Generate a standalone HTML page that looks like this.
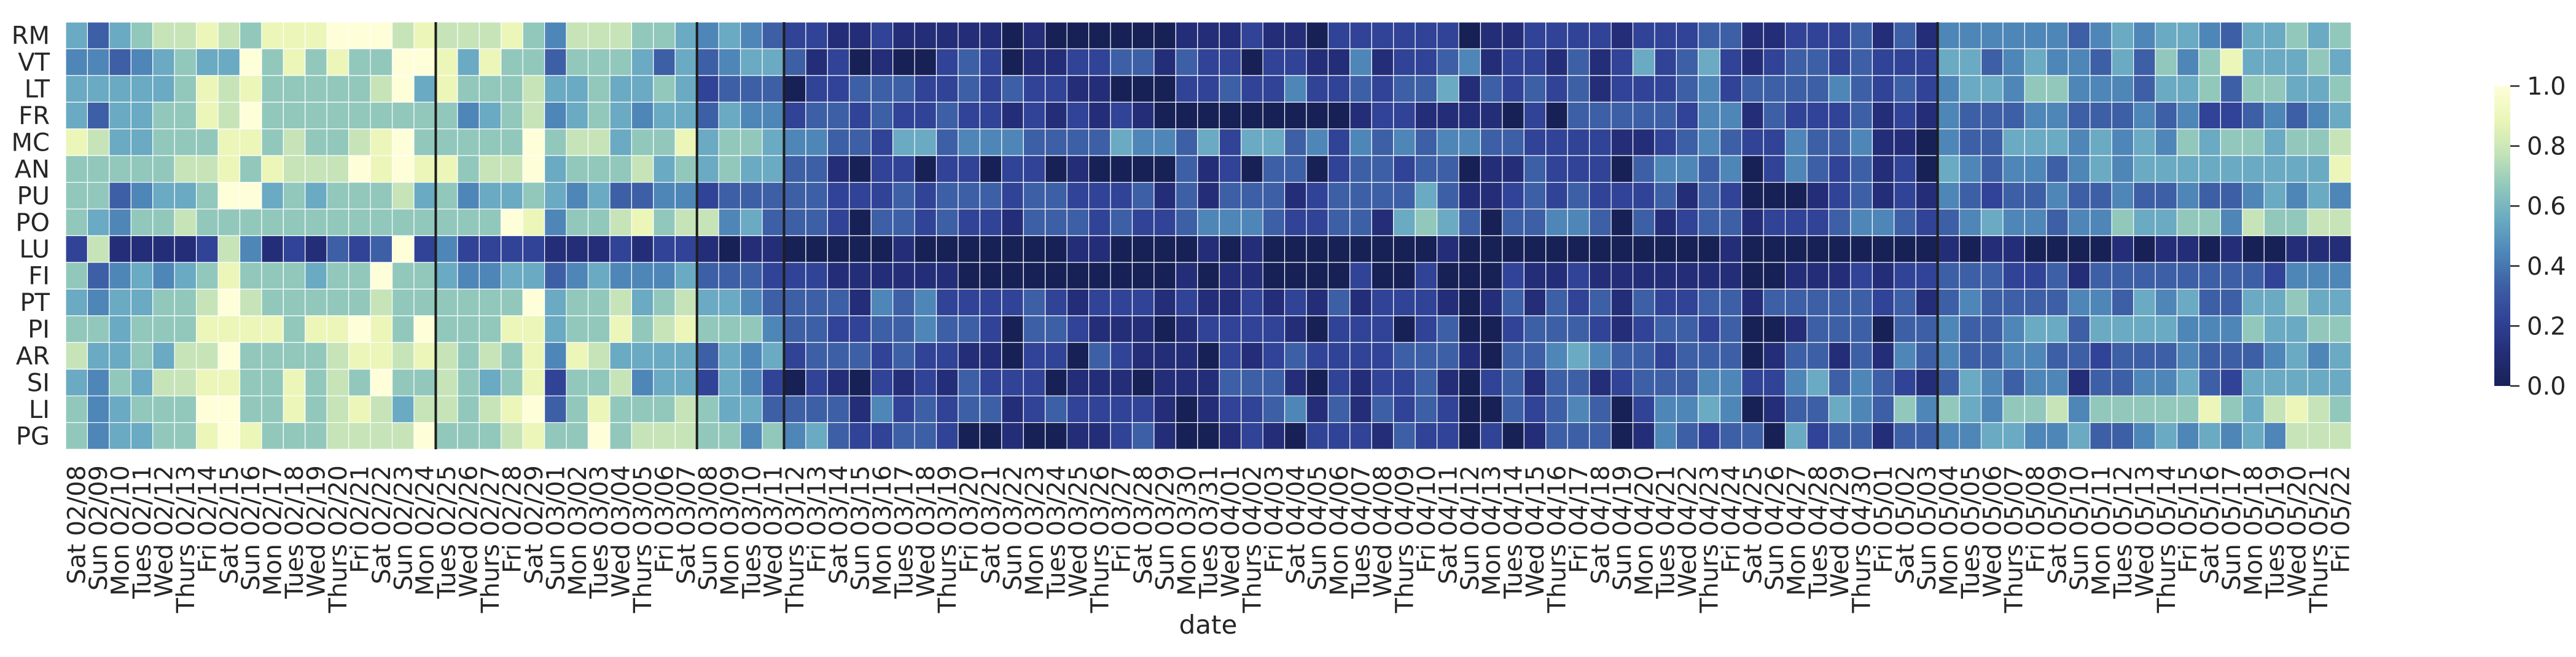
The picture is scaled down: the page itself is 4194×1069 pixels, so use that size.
<!DOCTYPE html>
<html><head><meta charset="utf-8"><style>
html,body{margin:0;padding:0;background:#fff;}
svg{display:block;font-family:"DejaVu Sans","Liberation Sans",sans-serif;}
</style></head><body>
<svg id="chart" width="4194" height="1069" viewBox="0 0 4194 1069" xmlns="http://www.w3.org/2000/svg">
<g id="cells"></g>
<g id="vlines"></g>
<g id="ylabels"></g>
<g id="xlabels"></g>
<text x="1967" y="1031" font-size="42" text-anchor="middle" fill="#262626">date</text>
<defs><linearGradient id="cbgrad" x1="0" y1="1" x2="0" y2="0"></linearGradient></defs>
<g id="colorbar"></g>
</svg>
<script>
const rowLabels = ["RM","VT","LT","FR","MC","AN","PU","PO","LU","FI","PT","PI","AR","SI","LI","PG"];
const startDate = [2020, 2, 8];
const dayCount = 105;
const dividerCols = [17, 29, 33, 86];
const cbTicks = [0.0, 0.2, 0.4, 0.6, 0.8, 1.0];
const cbTickLabels = ["0.0","0.2","0.4","0.6","0.8","1.0"];
// values as digits 0-9 (value = digit/9)
const rowRM = "53567787688899978"+"7778647776654543221"+"1211111010000001112"+"1102222220112222122"+"2331122231314444443"+"45455"+"4355656";
const rowVT = "44345655968686699"+"8586636665353455312"+"0100232011223313220"+"2211412234122131252"+"3521233232225534544"+"35364"+"6855565";
const rowLT = "55555687866666795"+"8666755655652333022"+"3332232322110002232"+"2422323351323231222"+"3423333432324554664"+"44355"+"6366556";
const rowFR = "53556687966666666"+"6456745654553544233"+"2322322121212100000"+"0000122111102033333"+"2441322231214333443"+"33434"+"2234345";
const rowMC = "87556668867667896"+"6666967756685665443"+"3255344433335443525"+"5342434344332222112"+"3432243341104335554"+"54546"+"5665667";
const rowAN = "66666778687779898"+"8677956667565655331"+"0220220220100003120"+"3302332330113222034"+"4340243231205434434"+"54555"+"5555558";
const rowPU = "6634556995656667564"+"55654533442333332223"+"2333233222313133312"+"3333531123232223132"+"000123121432334334334"+"3345454";
const rowPO = "6546676666666666666"+"69846678677453332033"+"2322133323223444322"+"3315653033443031233"+"122234432345443446556"+"6476677";
const rowLU = "2711112741213239242"+"22211121221011000001"+"0000000110000101000"+"0000010000000000001"+"000000000101100001011"+"0100111";
const rowFI = "6345456866656696654"+"45534544453332221111"+"1100000000001011000"+"0200200021121111111"+"001112122333223133333"+"3332444";
const rowPT = "5455667976666676666"+"66956675675543333143"+"4222232122212112121"+"3122210131323132233"+"133333231343333443545"+"3355655";
const rowPI = "6656668888688986966"+"68856686786664332233"+"4332033211101222210"+"2220230023332123323"+"001333033433455355554"+"4465566";
const rowAR = "7556577966667887876"+"76848755553545233323"+"2211022032111021232"+"2223331033454332333"+"013313143433443323334"+"3334545";
const rowSI = "5465778866867696676"+"56826674552542021021"+"2132220111011133310"+"2122310231331233344"+"224534321354344133445"+"3255555";
const rowLI = "6456669966867875776"+"78936866676553333142"+"3233123222210122341"+"3132320032343024454"+"013354364654667466666"+"8657876";
const rowPG = "6455668986667777966"+"67866967776646453223"+"3200100112310012102"+"2213220201333014323"+"305233133445544533454"+"5454777";
const rowDigits = [rowRM,rowVT,rowLT,rowFR,rowMC,rowAN,rowPU,rowPO,rowLU,rowFI,rowPT,rowPI,rowAR,rowSI,rowLI,rowPG];

const NS = "http://www.w3.org/2000/svg";
const X0 = 107, X1 = 3828, Y0 = 36, Y1 = 731;
const nCols = dayCount, nRows = rowLabels.length;
const cw = (X1 - X0) / nCols, rh = (Y1 - Y0) / nRows;
function xPos(c){ return X0 + c * cw; }
function yPos(r){ return Y0 + r * rh; }
const stops = [[0,"#182156"],[0.111,"#242e78"],[0.222,"#304396"],[0.333,"#3d5fa5"],[0.444,"#4e86b8"],[0.556,"#6aaac2"],[0.667,"#92c8bc"],[0.778,"#c6e4b8"],[0.889,"#ebf6b8"],[1,"#fefed9"]];
function hex(h){ return [parseInt(h.slice(1,3),16),parseInt(h.slice(3,5),16),parseInt(h.slice(5,7),16)]; }
function cmap(v){
  v = Math.max(0, Math.min(1, v));
  for (let i = 1; i < stops.length; i++) {
    if (v <= stops[i][0]) {
      const a = stops[i-1], b = stops[i], t = (v - a[0]) / (b[0] - a[0]);
      const ca = hex(a[1]), cb = hex(b[1]);
      return "rgb(" + ca.map((x,k)=>Math.round(x + (cb[k]-x)*t)).join(",") + ")";
    }
  }
  return stops[stops.length-1][1];
}
const cells = document.getElementById("cells");
for (let r = 0; r < nRows; r++) {
  for (let c = 0; c < nCols; c++) {
    const d = rowDigits[r][c];
    const v = (d === undefined ? 0 : parseInt(d, 10)) / 9;
    const rect = document.createElementNS(NS, "rect");
    rect.setAttribute("x", xPos(c)); rect.setAttribute("y", yPos(r));
    rect.setAttribute("width", cw); rect.setAttribute("height", rh);
    rect.setAttribute("fill", cmap(v)); rect.setAttribute("stroke", "#ffffff"); rect.setAttribute("stroke-width", "1.2");
    
    
    cells.appendChild(rect);
  }
}
const vl = document.getElementById("vlines");
dividerCols.forEach(c => {
  const l = document.createElementNS(NS, "line");
  l.setAttribute("x1", xPos(c)); l.setAttribute("x2", xPos(c));
  l.setAttribute("y1", Y0); l.setAttribute("y2", Y1);
  l.setAttribute("stroke", "#1e1e1e"); l.setAttribute("stroke-width", "4");
  
  
  vl.appendChild(l);
});
const yl = document.getElementById("ylabels");
rowLabels.forEach((lab, r) => {
  const t = document.createElementNS(NS, "text");
  t.setAttribute("x", 81); t.setAttribute("y", yPos(r) + rh/2 + 14);
  t.setAttribute("text-anchor", "end"); t.setAttribute("font-size", "40"); t.setAttribute("fill", "#262626");
  t.textContent = lab;
  
  
  yl.appendChild(t);
});
const dayNames = ["Sun","Mon","Tues","Wed","Thurs","Fri","Sat"];
const categories = [];
for (let i = 0; i < dayCount; i++) {
  const dt = new Date(Date.UTC(startDate[0], startDate[1]-1, startDate[2] + i));
  const mm = String(dt.getUTCMonth()+1).padStart(2,"0"), dd = String(dt.getUTCDate()).padStart(2,"0");
  categories.push(dayNames[dt.getUTCDay()] + " " + mm + "/" + dd);
}
const xl = document.getElementById("xlabels");
categories.forEach((lab, c) => {
  const cx = xPos(c) + cw/2 + 14, cy = 757;
  const t = document.createElementNS(NS, "text");
  t.setAttribute("x", cx); t.setAttribute("y", cy);
  t.setAttribute("transform", "rotate(-90 " + cx + " " + cy + ")");
  t.setAttribute("text-anchor", "end"); t.setAttribute("font-size", "40"); t.setAttribute("fill", "#262626");
  t.textContent = lab;
  
  
  xl.appendChild(t);
});
// colorbar
const grad = document.getElementById("cbgrad");
stops.forEach(s => {
  const st = document.createElementNS(NS, "stop");
  st.setAttribute("offset", s[0]); st.setAttribute("stop-color", s[1]);
  grad.appendChild(st);
});
const cb = document.getElementById("colorbar");
const CBX = 4061, CBW = 26, CBY0 = 140, CBY1 = 628;
function cbY(v){ return CBY1 - v * (CBY1 - CBY0); }
const bar = document.createElementNS(NS, "rect");
bar.setAttribute("x", CBX); bar.setAttribute("y", CBY0); bar.setAttribute("width", CBW); bar.setAttribute("height", CBY1 - CBY0);
bar.setAttribute("fill", "url(#cbgrad)");


cb.appendChild(bar);
cbTicks.forEach((v, i) => {
  const y = cbY(v);
  const tk = document.createElementNS(NS, "line");
  tk.setAttribute("x1", CBX + CBW); tk.setAttribute("x2", CBX + CBW + 15);
  tk.setAttribute("y1", y); tk.setAttribute("y2", y);
  tk.setAttribute("stroke", "#262626"); tk.setAttribute("stroke-width", "2.5");
  
  
  cb.appendChild(tk);
  const t = document.createElementNS(NS, "text");
  t.setAttribute("x", 4114); t.setAttribute("y", y + 14);
  t.setAttribute("font-size", "40"); t.setAttribute("fill", "#262626");
  t.textContent = cbTickLabels[i];
  
  
  cb.appendChild(t);
});
</script>
</body></html>
